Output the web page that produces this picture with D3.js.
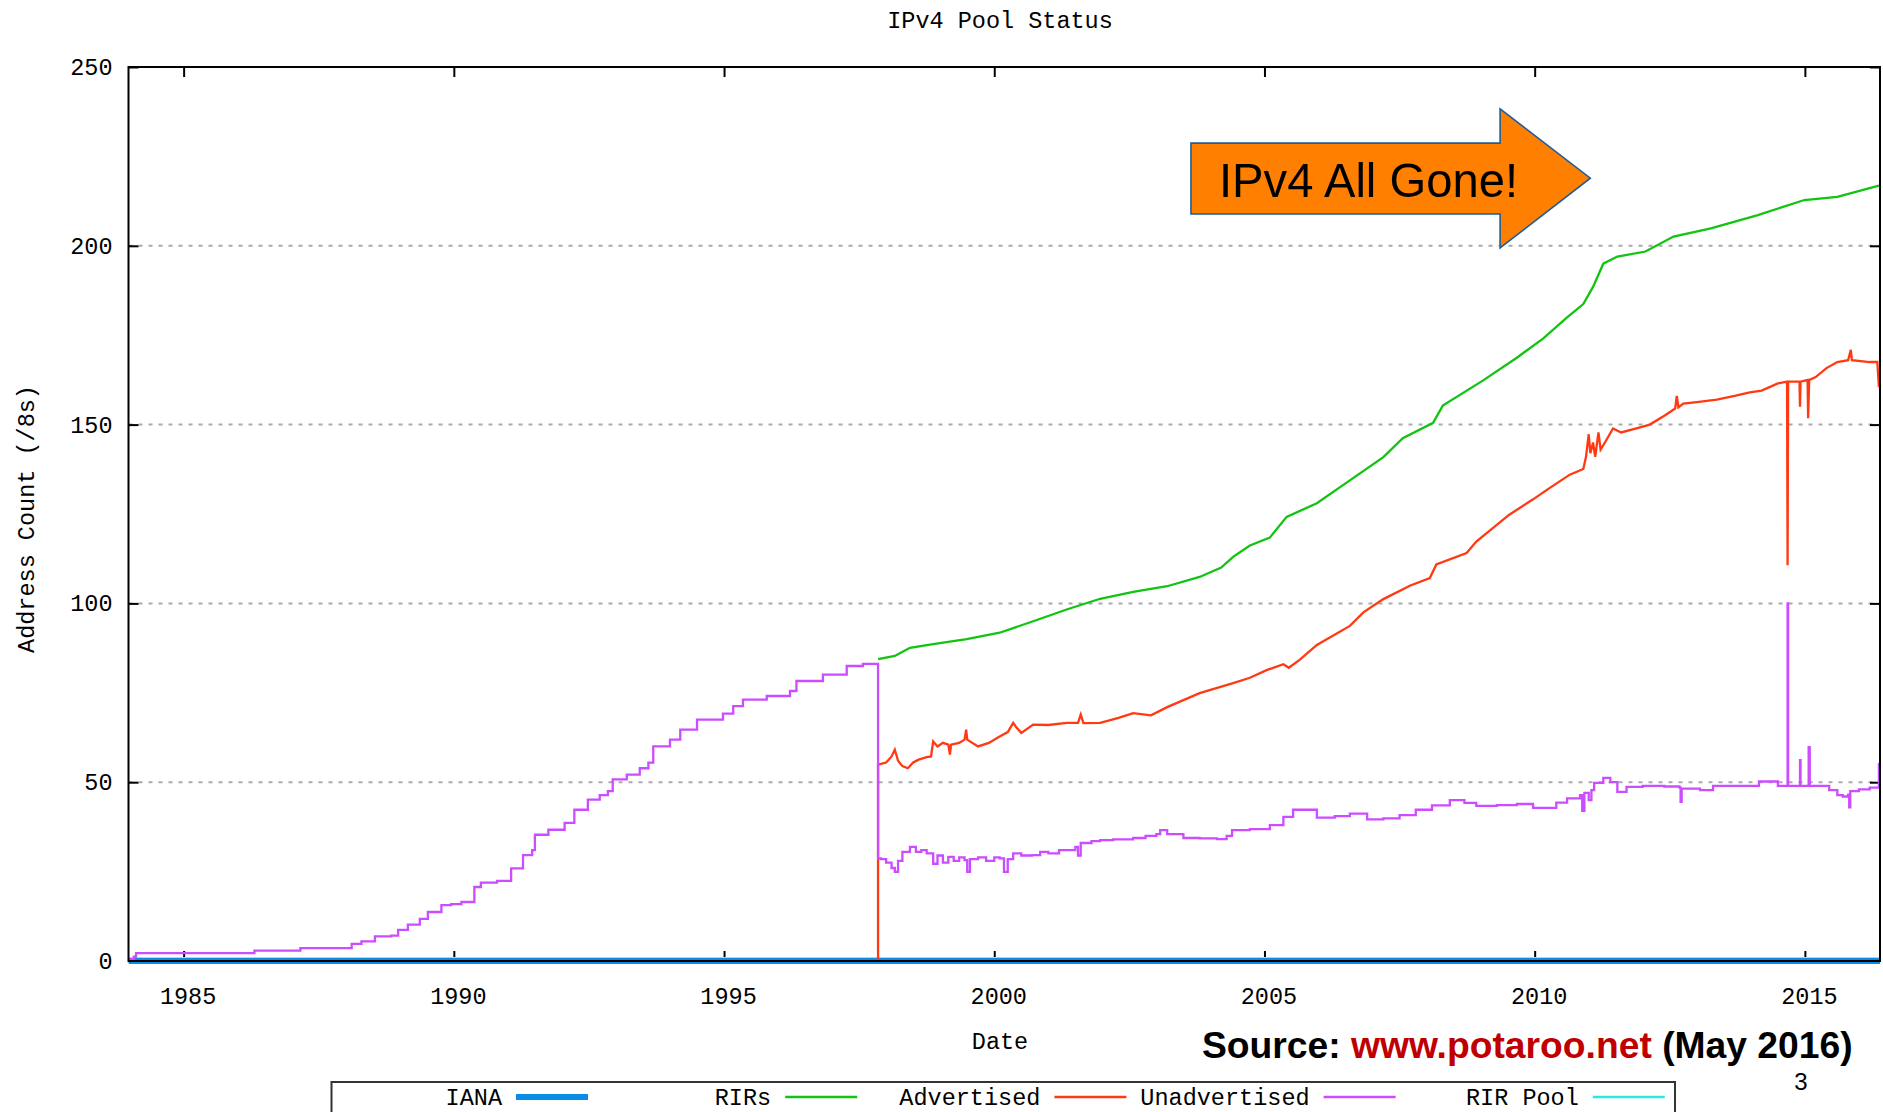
<!DOCTYPE html>
<html><head><meta charset="utf-8">
<script src="https://cdn.jsdelivr.net/npm/d3@7"></script>
<style>
html,body{margin:0;padding:0;background:#fff;}
svg{display:block;}
.mono{font-family:"Liberation Mono","DejaVu Sans Mono",monospace;font-size:23.5px;fill:#000;}
</style></head>
<body>
<svg id="chart" width="1883" height="1112"></svg>
<script>
// ---------- data ----------
const title = "IPv4 Pool Status";
const xLabel = "Date";
const yLabel = "Address Count (/8s)";
const xTicks = [1985, 1990, 1995, 2000, 2005, 2010, 2015];
const yTicks = [0, 50, 100, 150, 200, 250];
const yGrid = [50, 100, 150, 200];
const xDomain = [1983.98, 2016.39];
const yDomain = [0, 250];

const legendNames = ["IANA", "RIRs", "Advertised", "Unadvertised", "RIR Pool"];
const legendColors = ["#0a8de6", "#11c411", "#ff3a12", "#cc4cff", "#2ce6e6"];

const ianaYears = [1983.98, 2016.39];
const ianaValues = [0, 0];
const poolYears = [1983.98, 2016.39];
const poolValues = [0, 0];

const rirYears = [1997.85,1998.16,1998.44,1998.87,1999.49,2000.1,2000.72,2001.34,2001.96,2002.57,2003.2,2003.8,2004.2,2004.42,2004.73,2005.1,2005.41,2005.97,2006.58,2007.2,2007.56,2008.12,2008.3,2009.04,2009.67,2010.16,2010.6,2010.9,2011.08,2011.27,2011.53,2012.05,2012.57,2013.26,2014.13,2014.99,2015.6,2016.37];
const rirValues = [84.4,85.3,87.6,88.6,90,91.8,95,98.3,101.3,103.2,104.8,107.4,110,113,116.2,118.4,124.2,128,134.4,140.9,146.2,150.5,155.3,162.3,168.7,174.1,180,183.7,188.5,195,197,198.4,202.6,204.9,208.6,212.8,213.7,216.8];

const advYears = [1997.85,1997.85,1998.0,1998.1,1998.16,1998.22,1998.3,1998.4,1998.5,1998.6,1998.75,1998.83,1998.87,1998.95,1999.05,1999.15,1999.18,1999.2,1999.35,1999.45,1999.48,1999.5,1999.7,1999.9,2000.1,2000.25,2000.35,2000.4,2000.5,2000.72,2001.0,2001.34,2001.55,2001.6,2001.65,2001.96,2002.3,2002.57,2002.9,2003.2,2003.8,2004.42,2004.73,2005.05,2005.35,2005.45,2005.65,2005.97,2006.58,2006.83,2007.2,2007.7,2008.06,2008.18,2008.74,2008.92,2009.53,2009.97,2010.28,2010.65,2010.9,2010.95,2011.0,2011.03,2011.08,2011.12,2011.18,2011.22,2011.3,2011.45,2011.6,2011.9,2012.13,2012.4,2012.6,2012.63,2012.66,2012.75,2013.0,2013.37,2013.7,2013.98,2014.2,2014.5,2014.67,2014.68,2014.69,2014.9,2014.91,2014.92,2015.05,2015.06,2015.08,2015.2,2015.4,2015.6,2015.8,2015.85,2015.87,2016.2,2016.34,2016.37];
const advValues = [0,54.9,55.5,57.2,59.1,56,54.5,53.9,55.5,56.3,57,57.2,61.4,60,61,60.5,57.7,60.5,61,61.9,64.7,61.9,60,61,62.8,64,66.6,65.5,63.8,66.1,66,66.6,66.6,68.9,66.5,66.6,68,69.3,68.7,71,74.9,77.7,79.2,81.4,83,82,84.2,88.4,93.7,97.5,101.2,105,107.1,110.9,114.1,117.3,124.8,129.1,132.3,136,137.6,141,147.3,142,145,141,147.8,143,145,148.9,147.8,149,150,152.5,154.5,158,154.8,155.9,156.3,157,158,159,159.5,161.5,162,110.7,162,162,155,162,162.5,151.8,162.5,163.3,165.8,167.5,168,170.9,168,167.5,167.5,160.5];

const unadvYears = [1983.98,1984.08,1984.12,1986.28,1986.31,1987.13,1987.16,1988.01,1988.11,1988.29,1988.54,1988.84,1988.97,1989.15,1989.37,1989.52,1989.77,1989.95,1990.14,1990.38,1990.5,1990.8,1991.06,1991.28,1991.45,1991.5,1991.75,1992.05,1992.23,1992.48,1992.7,1992.85,1992.94,1993.2,1993.44,1993.6,1993.69,1994.0,1994.19,1994.5,1994.98,1995.17,1995.35,1995.79,1996.22,1996.34,1996.83,1997.27,1997.57,1997.85,1997.85,1997.9,1998.0,1998.1,1998.16,1998.22,1998.3,1998.44,1998.55,1998.65,1998.75,1998.87,1998.95,1999.05,1999.15,1999.25,1999.35,1999.45,1999.5,1999.55,1999.7,1999.85,2000.0,2000.1,2000.18,2000.25,2000.35,2000.5,2000.7,2000.85,2001.0,2001.2,2001.35,2001.5,2001.55,2001.6,2001.8,2001.96,2002.2,2002.57,2002.8,2003.0,2003.07,2003.2,2003.5,2003.8,2004.12,2004.3,2004.4,2004.73,2005.05,2005.1,2005.35,2005.53,2005.65,2005.97,2006.3,2006.58,2006.9,2007.2,2007.5,2007.8,2008.1,2008.43,2008.7,2008.92,2009.3,2009.67,2009.97,2010.16,2010.4,2010.6,2010.84,2010.88,2010.92,2011.0,2011.05,2011.1,2011.27,2011.4,2011.53,2011.7,2012.0,2012.4,2012.68,2012.7,2012.72,2013.06,2013.3,2013.7,2014.15,2014.5,2014.67,2014.68,2014.69,2014.9,2014.91,2014.92,2015.06,2015.07,2015.09,2015.3,2015.45,2015.6,2015.7,2015.8,2015.82,2015.84,2016.0,2016.2,2016.34,2016.37];
const unadvValues = [0.5,1.2,2.2,2.2,2.9,2.9,3.6,3.6,4.8,5.5,6.9,7.1,8.7,10.2,11.8,13.7,15.6,15.9,16.5,20.7,21.9,22.4,25.9,29.6,31,35.3,36.7,38.6,42.3,45.1,46.4,47.5,50.8,52.1,53.9,55.5,60,61.9,64.7,67.5,69.2,71.3,73.1,74.1,75.5,78.3,80.1,82.5,83.1,83.1,28.7,28.5,27.5,26,24.9,28,30.5,31.9,30.5,31,30.1,27.2,29.5,27.5,29.1,28,29,28.2,24.9,28.5,29,28,29,28.7,24.9,28.5,30.1,29.5,29.6,30.5,30.1,31,31,31.9,29.5,33,33.5,33.8,34,34.4,35,35.5,36.6,35.5,34.4,34.3,34.1,35,36.6,36.9,36.9,38,40.3,42.3,42.3,40.1,40.5,41.2,39.6,39.9,40.8,42.3,43.5,45,44.2,43.4,43.6,43.9,42.8,42.8,44.3,45.5,46.4,42,47,45,47.8,49.8,51.2,50,47.3,48.7,49,48.8,48.5,44.5,48.2,47.8,49,49,50.2,49,49,100,49,49,56.2,49,49,59.8,49,49,47.8,46.4,46,46.5,43,47.5,48,48.5,48.5,55.4];

// annotation (in data coordinates)
const arrowText = "IPv4 All Gone!";
const arrowYears = [2003.64, 2009.36, 2011.03];   // body left, head base, tip
const arrowValues = [208.9, 228.7, 199.4, 238.3, 218.9]; // body bottom, body top, head bottom, head top, tip
const sourceParts = ["Source: ", "www.potaroo.net", " (May 2016)"];
const pageNumber = "3";

// ---------- layout ----------
const svg = d3.select("#chart");
const L = 128.5, R = 1880, T = 67, B = 961;
const x = d3.scaleLinear().domain(xDomain).range([L, R]);
const y = d3.scaleLinear().domain(yDomain).range([B, T]);

// grid
svg.append("g").selectAll("line").data(yGrid).join("line")
  .attr("x1", L).attr("x2", R).attr("y1", d => y(d)).attr("y2", d => y(d))
  .attr("stroke", "#aaaaaa").attr("stroke-width", 2).attr("stroke-dasharray", "4,6");

// axes (ticks inward, mirrored)
const tickLen = 10;
const axL = svg.append("g").attr("transform", `translate(${L},0)`)
  .call(d3.axisLeft(y).tickValues(yTicks).tickSize(-tickLen).tickPadding(16).tickFormat(d3.format("d")));
const axR = svg.append("g").attr("transform", `translate(${R},0)`)
  .call(d3.axisRight(y).tickValues(yTicks).tickSize(-tickLen).tickFormat(""));
const axB = svg.append("g").attr("transform", `translate(0,${B})`)
  .call(d3.axisBottom(x).tickValues(xTicks).tickSize(-tickLen).tickPadding(26).tickFormat(d3.format("d")));
const axT = svg.append("g").attr("transform", `translate(0,${T})`)
  .call(d3.axisTop(x).tickValues(xTicks).tickSize(-tickLen).tickFormat(""));
[axL, axR, axB, axT].forEach(a => {
  a.select(".domain").remove();
  a.selectAll(".tick line").attr("stroke", "#000").attr("stroke-width", 2);
  a.selectAll("text").attr("class", "mono").attr("font-family", null).attr("font-size", null).attr("fill", "#000");
});
axB.selectAll(".tick text").attr("dx", 4);

// series
const series = [
  {years: poolYears, values: poolValues, color: "#8fe6f2", w: 1.2, dy: -3.5, curve: d3.curveLinear},
  {years: ianaYears, values: ianaValues, color: legendColors[0], w: 6, dy: 0, curve: d3.curveLinear},
  {years: rirYears, values: rirValues, color: legendColors[1], w: 2.3, dy: 0, curve: d3.curveLinear},
  {years: advYears, values: advValues, color: legendColors[2], w: 2.3, dy: 0, curve: d3.curveLinear},
  {years: unadvYears, values: unadvValues, color: legendColors[3], w: 2.3, dy: 0, curve: d3.curveStepAfter}
];
const clip = svg.append("clipPath").attr("id", "pc").append("rect")
  .attr("x", L).attr("y", T - 2).attr("width", R - L).attr("height", B - T + 6);
const gl = svg.append("g").attr("clip-path", "url(#pc)");
series.forEach(s => {
  const pts = s.years.map((yr, k) => [yr, s.values[k]]);
  const line = d3.line().x(d => x(d[0])).y(d => y(d[1]) + s.dy).curve(s.curve);
  gl.append("path").datum(pts).attr("d", line)
    .attr("fill", "none").attr("stroke", s.color).attr("stroke-width", s.w)
    .attr("stroke-linejoin", "miter");
});

// border
svg.append("rect").attr("x", L).attr("y", T).attr("width", R - L).attr("height", B - T)
  .attr("fill", "none").attr("stroke", "#000").attr("stroke-width", 2);

// titles
svg.append("text").attr("class", "mono").attr("x", 1000).attr("y", 28).attr("text-anchor", "middle").text(title);
svg.append("text").attr("class", "mono").attr("x", 1000).attr("y", 1049).attr("text-anchor", "middle").text(xLabel);
svg.append("text").attr("class", "mono").attr("text-anchor", "middle")
  .attr("transform", "translate(34,519) rotate(-90)").text(yLabel);

// legend
svg.append("rect").attr("x", 331.5).attr("y", 1082).attr("width", 1343.5).attr("height", 60)
  .attr("fill", "#fff").attr("stroke", "#333").attr("stroke-width", 2);
const legSampleStart = 516, legPitch = 269.2, legSampleLen = 72, legY = 1097;
legendNames.forEach((n, i) => {
  const sx = legSampleStart + i * legPitch;
  svg.append("text").attr("class", "mono").attr("x", sx - 14).attr("y", legY + 8).attr("text-anchor", "end").text(n);
  svg.append("line").attr("x1", sx).attr("x2", sx + legSampleLen).attr("y1", legY).attr("y2", legY)
    .attr("stroke", legendColors[i]).attr("stroke-width", i === 0 ? 6 : 2.3);
});

// arrow annotation
const ax0 = x(arrowYears[0]), ax1 = x(arrowYears[1]), ax2 = x(arrowYears[2]);
const ayBb = y(arrowValues[0]), ayBt = y(arrowValues[1]), ayHb = y(arrowValues[2]), ayHt = y(arrowValues[3]), ayTip = y(arrowValues[4]);
svg.append("path")
  .attr("d", `M${ax0},${ayBt}L${ax1},${ayBt}L${ax1},${ayHt}L${ax2},${ayTip}L${ax1},${ayHb}L${ax1},${ayBb}L${ax0},${ayBb}Z`)
  .attr("fill", "#ff8000").attr("stroke", "#1f5c99").attr("stroke-width", 1.6);
svg.append("text").attr("x", 1219).attr("y", 197)
  .attr("font-family", "'Liberation Sans', Arial, sans-serif").attr("font-size", 49)
  .attr("textLength", 299).attr("lengthAdjust", "spacingAndGlyphs").attr("fill", "#000").text(arrowText);

// source line
const src = svg.append("text").attr("x", 1202).attr("y", 1058)
  .attr("font-family", "'Liberation Sans', Arial, sans-serif").attr("font-weight", "bold").attr("font-size", 33);
src.append("tspan").attr("fill", "#000").text(sourceParts[0]);
src.append("tspan").attr("fill", "#c00000").text(sourceParts[1]);
src.append("tspan").attr("fill", "#000").text(sourceParts[2]);
const w = src.node().getComputedTextLength();
src.attr("font-size", 33 * 651 / w);

svg.append("text").attr("x", 1801).attr("y", 1090).attr("text-anchor", "middle")
  .attr("font-family", "'Liberation Sans', Arial, sans-serif").attr("font-size", 24).attr("fill", "#000").text(pageNumber);
</script>
</body></html>
